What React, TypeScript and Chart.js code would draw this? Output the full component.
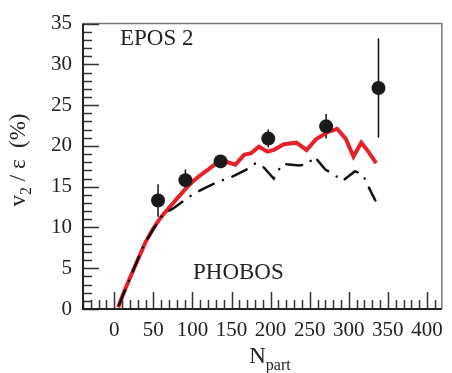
import React, { useEffect, useRef } from "react";
import { Chart, registerables } from "chart.js";

Chart.register(...registerables);

// EPOS 2 (red solid)
const redN = [5, 10, 20, 30, 40, 50, 60, 70, 80, 90, 100, 110, 120, 135, 145, 155, 166, 175, 185, 196, 204, 217, 233, 246, 258, 273, 285, 296, 306, 316, 325, 335];
const redV = [0.2, 1.5, 3.8, 6.0, 8.2, 9.9, 11.3, 12.4, 13.5, 14.6, 15.6, 16.4, 17.1, 18.2, 18.0, 17.7, 18.9, 19.1, 19.9, 19.3, 19.5, 20.2, 20.4, 19.5, 20.8, 21.7, 22.1, 20.9, 18.7, 20.4, 19.3, 17.9];

// dash-dot black curve
const blackN = [6, 19, 37, 50, 63, 75, 92, 101, 115, 133, 142, 150, 169, 181, 190, 204, 215, 237, 248, 256, 270, 281, 292, 308, 318, 323, 334];
const blackV = [0.5, 3.5, 7.7, 9.8, 11.7, 12.3, 13.5, 14.1, 14.8, 15.6, 15.9, 16.2, 17.1, 17.9, 17.5, 16.0, 17.8, 17.6, 17.8, 18.7, 17.1, 16.5, 15.7, 16.9, 16.5, 15.4, 13.3];

// PHOBOS data points
const phobosN = [56, 91, 136, 197, 271, 338];
const phobosV = [13.3, 15.8, 18.1, 20.9, 22.4, 27.1];
const phobosErr = [2.0, 1.3, 0.6, 1.1, 1.5, 6.1];

// tick labels
const xTicks = [0, 50, 100, 150, 200, 250, 300, 350, 400];
const yTicks = [0, 5, 10, 15, 20, 25, 30, 35];
const xMinorStep = 10;
const yMinorStep = 1;

const SERIF = "'Liberation Serif', 'DejaVu Serif', serif";

const decorPlugin = {
  id: "decor",
  beforeDatasetsDraw(chart: any) {
    const { ctx, chartArea } = chart;
    const xs = chart.scales.x;
    const ys = chart.scales.y;
    const { left, right, top, bottom } = chartArea;
    ctx.save();
    // frame top/right
    ctx.strokeStyle = "#777";
    ctx.lineWidth = 1.5;
    ctx.beginPath();
    ctx.moveTo(left, top);
    ctx.lineTo(right, top);
    ctx.lineTo(right, bottom);
    ctx.stroke();
    // ticks
    ctx.strokeStyle = "#333";
    ctx.lineWidth = 1.5;
    ctx.beginPath();
    for (let v = Math.ceil(xs.min / xMinorStep) * xMinorStep; v <= xs.max; v += xMinorStep) {
      const px = Math.round(xs.getPixelForValue(v)) + 0.5;
      const major = xTicks.includes(v);
      const len = major ? 17 : 9;
      ctx.moveTo(px, bottom);
      ctx.lineTo(px, bottom - len);
    }
    for (let v = ys.min; v <= ys.max; v += yMinorStep) {
      const py = Math.round(ys.getPixelForValue(v)) + 0.5;
      const major = yTicks.includes(v);
      const len = major ? 16 : 9;
      ctx.moveTo(left, py);
      ctx.lineTo(left + len, py);
    }
    ctx.stroke();
    // axes left/bottom
    ctx.strokeStyle = "#222";
    ctx.lineWidth = 2;
    ctx.beginPath();
    ctx.moveTo(left, top);
    ctx.lineTo(left, bottom);
    ctx.lineTo(right, bottom);
    ctx.stroke();
    // error bars
    ctx.strokeStyle = "#111";
    ctx.lineWidth = 1.5;
    ctx.beginPath();
    phobosN.forEach((n, i) => {
      const px = xs.getPixelForValue(n);
      ctx.moveTo(px, ys.getPixelForValue(phobosV[i] + phobosErr[i]));
      ctx.lineTo(px, ys.getPixelForValue(phobosV[i] - phobosErr[i]));
    });
    ctx.stroke();
    ctx.restore();
  },
  afterDraw(chart: any) {
    const { ctx } = chart;
    ctx.save();
    ctx.fillStyle = "#222";
    // labels inside
    ctx.font = `23px ${SERIF}`;
    ctx.textBaseline = "alphabetic";
    ctx.textAlign = "left";
    ctx.fillText("EPOS 2", 120, 45);
    ctx.fillText("PHOBOS", 193, 279);
    // x title N_part
    ctx.font = `23px ${SERIF}`;
    const wN = ctx.measureText("N").width;
    ctx.font = `16px ${SERIF}`;
    const wP = ctx.measureText("part").width;
    const cx = 270;
    const x0 = cx - (wN + wP) / 2;
    ctx.font = `23px ${SERIF}`;
    ctx.fillText("N", x0, 363);
    ctx.font = `16px ${SERIF}`;
    ctx.fillText("part", x0 + wN, 370);
    // y title
    ctx.translate(25, 160);
    ctx.rotate(-Math.PI / 2);
    const parts: [string, number, number][] = [
      ["v", 23, 0],
      ["2", 16, 6],
      [" / ε  (%)", 23, 0],
    ];
    let total = 0;
    parts.forEach(([t, s]) => {
      ctx.font = `${s}px ${SERIF}`;
      total += ctx.measureText(t).width;
    });
    let xx = -total / 2;
    parts.forEach(([t, s, dy]) => {
      ctx.font = `${s}px ${SERIF}`;
      ctx.fillText(t, xx, dy);
      xx += ctx.measureText(t).width;
    });
    ctx.restore();
  },
};

export default function App() {
  const ref = useRef<HTMLCanvasElement | null>(null);
  useEffect(() => {
    if (!ref.current) return;
    const chart = new Chart(ref.current, {
      type: "scatter",
      data: {
        datasets: [
          {
            label: "PHOBOS",
            data: phobosN.map((n, i) => ({ x: n, y: phobosV[i] })),
            showLine: false,
            pointRadius: 7,
            pointBackgroundColor: "#1a1a1a",
            pointBorderColor: "#1a1a1a",
            pointBorderWidth: 0,
          },
          {
            label: "EPOS 2 (dash-dot)",
            data: blackN.map((n, i) => ({ x: n, y: blackV[i] })),
            showLine: true,
            borderColor: "#111",
            borderWidth: 2.5,
            borderDash: [16, 10, 0.1, 10],
            borderCapStyle: "round",
            pointRadius: 0,
            tension: 0,
          },
          {
            label: "EPOS 2",
            data: redN.map((n, i) => ({ x: n, y: redV[i] })),
            showLine: true,
            borderColor: "#e8202a",
            borderWidth: 4,
            pointRadius: 0,
            tension: 0,
            borderJoinStyle: "miter",
          },
        ],
      },
      options: {
        animation: false,
        responsive: false,
        events: [],
        layout: { padding: { left: 0, right: 2, top: 15, bottom: 0 } },
        plugins: { legend: { display: false }, tooltip: { enabled: false } },
        scales: {
          x: {
            type: "linear",
            min: -40,
            max: 419,
            grid: { display: false, drawTicks: false },
            border: { display: false },
            afterBuildTicks: (s: any) => {
              s.ticks = xTicks.map((v) => ({ value: v }));
            },
            afterFit: (s: any) => {
              s.height = 64;
            },
            ticks: {
              padding: 9,
              maxRotation: 0,
              autoSkip: false,
              color: "#222",
              font: { family: SERIF, size: 21 },
            },
          },
          y: {
            type: "linear",
            min: 0,
            max: 35,
            grid: { display: false, drawTicks: false },
            border: { display: false },
            afterBuildTicks: (s: any) => {
              s.ticks = yTicks.map((v) => ({ value: v }));
            },
            afterFit: (s: any) => {
              s.width = 83;
            },
            ticks: {
              padding: 11,
              autoSkip: false,
              color: "#222",
              font: { family: SERIF, size: 21 },
            },
          },
        },
      },
      plugins: [decorPlugin],
    } as any);
    return () => chart.destroy();
  }, []);
  return (
    <div style={{ position: "absolute", left: 0, top: 0, width: 452, height: 373, background: "#fff" }}>
      <canvas ref={ref} width={452} height={373} style={{ display: "block" }} />
    </div>
  );
}
